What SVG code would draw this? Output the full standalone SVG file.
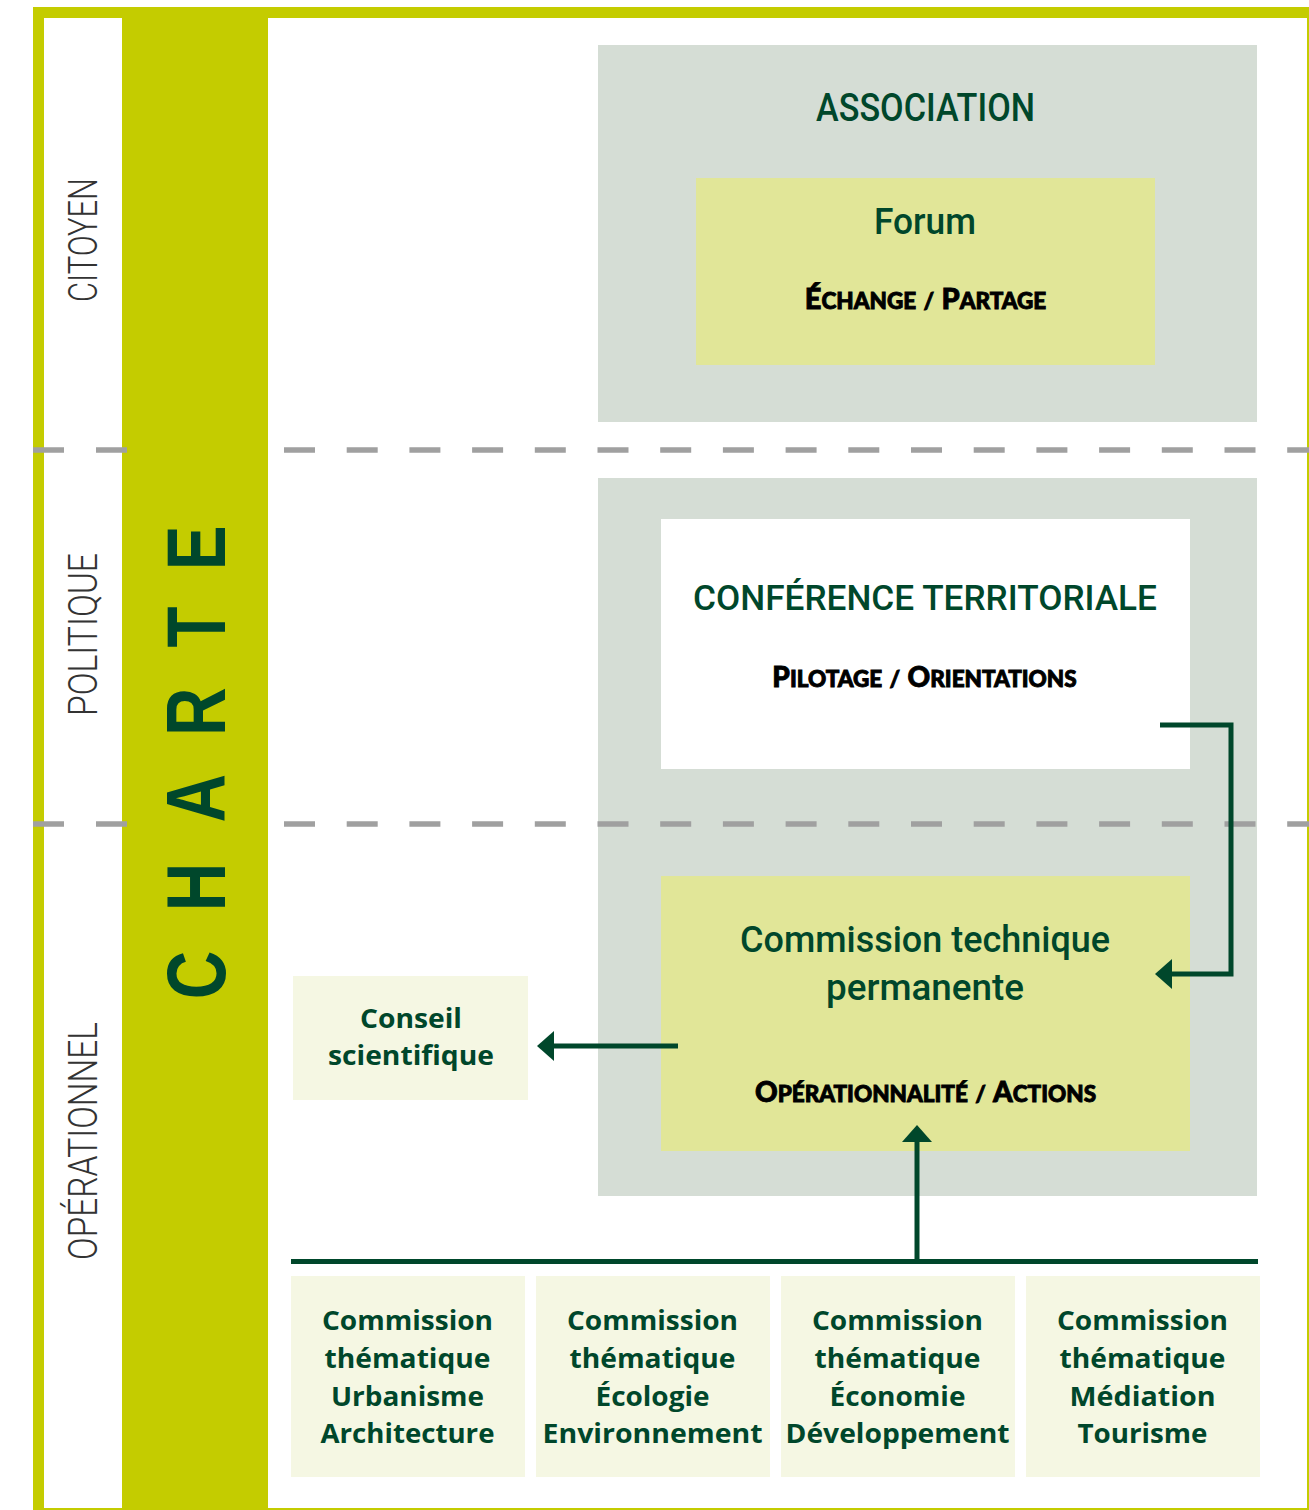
<svg xmlns="http://www.w3.org/2000/svg" width="1309" height="1510" viewBox="0 0 1309 1510">
<defs>
<style>
.lime{fill:#c4cc00}
.grey{fill:#d5ddd5}
.yel{fill:#e1e698}
.pale{fill:#f5f7e3}
.white{fill:#ffffff}
.dash{stroke:#a0a0a0;stroke-width:5.5;fill:none}
.conn{stroke:#00472b;stroke-width:5;fill:none}
.title{font-family:Roboto,"Open Sans",sans-serif;font-weight:500;fill:#00472b;text-anchor:middle}
.sc{font-family:Lato,"Open Sans",sans-serif;font-weight:900;fill:#000;stroke:#000;stroke-width:0.9;text-anchor:middle;word-spacing:2px}
.bold{font-family:"Open Sans","Noto Sans",sans-serif;font-weight:700;fill:#00472b;text-anchor:middle;font-size:26px}
.side{font-family:Roboto,"Liberation Sans",sans-serif;font-weight:300;fill:#333;text-anchor:middle;font-size:40px}
.charte{font-family:"Liberation Sans",Arial,sans-serif;font-weight:700;fill:#00472b;text-anchor:middle;font-size:84px}
</style>
<marker id="ah" markerUnits="userSpaceOnUse" markerWidth="17" markerHeight="30" refX="0" refY="15" orient="auto"><path d="M0,0 L17,15 L0,30 Z" fill="#00472b"/></marker>
</defs>

<g id="frame">
<rect class="lime" x="33" y="7" width="1276" height="1503"/>
<rect class="white" x="44" y="18" width="1263" height="1490"/>
<rect class="lime" x="122" y="18" width="146" height="1492"/>
</g>

<g id="groupe-association">
<rect class="grey" x="598" y="45" width="659" height="377"/>
</g>
<g id="groupe-politique">
<rect class="grey" x="598" y="478" width="659" height="718"/>
</g>

<g id="separateurs">
<path class="dash" d="M33,450H127M33,824H127" stroke-dasharray="31 32"/>
<path class="dash" d="M284,450H1309M284,824H1309" stroke-dasharray="31 31.7"/>
</g>

<g id="labels-niveaux">
<text class="side" transform="translate(97,240) rotate(-90)" x="0" y="0" textLength="124" lengthAdjust="spacingAndGlyphs">CITOYEN</text>
<text class="side" transform="translate(97,634.5) rotate(-90)" x="0" y="0" textLength="163" lengthAdjust="spacingAndGlyphs">POLITIQUE</text>
<text class="side" transform="translate(97,1141) rotate(-90)" x="0" y="0" textLength="238" lengthAdjust="spacingAndGlyphs">OPÉRATIONNEL</text>
</g>

<g id="charte">
<text class="charte" transform="translate(225,995) rotate(-90) scale(0.8,1)" x="25 135 246 354 460 559" y="0">CHARTE</text>
</g>

<g id="association">
<text class="title" x="925.5" y="121" font-size="39" textLength="219" lengthAdjust="spacingAndGlyphs">ASSOCIATION</text>
</g>

<g id="forum">
<rect class="yel" x="696" y="178" width="459" height="187"/>
<text class="title" x="925" y="234" font-size="37" textLength="102" lengthAdjust="spacingAndGlyphs">Forum</text>
<text class="sc" x="925.5" y="309" font-size="22.5"><tspan font-size="29">É</tspan>CHANGE / <tspan font-size="29">P</tspan>ARTAGE</text>
</g>

<g id="conference">
<rect class="white" x="661" y="519" width="529" height="250"/>
<text class="title" x="925" y="610" font-size="35" textLength="464" lengthAdjust="spacingAndGlyphs">CONFÉRENCE TERRITORIALE</text>
<text class="sc" x="924.5" y="687" font-size="22.5"><tspan font-size="28">P</tspan>ILOTAGE / <tspan font-size="28">O</tspan>RIENTATIONS</text>
</g>

<g id="commission-technique">
<rect class="yel" x="661" y="876" width="529" height="275"/>
<text class="title" x="925" y="952" font-size="37" textLength="370" lengthAdjust="spacingAndGlyphs">Commission technique</text>
<text class="title" x="925" y="1000" font-size="37" textLength="198" lengthAdjust="spacingAndGlyphs">permanente</text>
<text class="sc" x="925.5" y="1102" font-size="22.5"><tspan font-size="28">O</tspan>PÉRATIONNALITÉ / <tspan font-size="28">A</tspan>CTIONS</text>
</g>

<g id="conseil-scientifique">
<rect class="pale" x="293" y="976" width="235" height="124"/>
<text class="bold" x="411" y="1028" textLength="102" lengthAdjust="spacingAndGlyphs">Conseil</text>
<text class="bold" x="411" y="1065" textLength="166" lengthAdjust="spacingAndGlyphs">scientifique</text>
</g>

<g id="ct-urbanisme">
<rect class="pale" x="291" y="1276" width="234" height="201"/>
<text class="bold" x="407.5" y="1330" textLength="171" lengthAdjust="spacingAndGlyphs">Commission</text>
<text class="bold" x="407.5" y="1367.5" textLength="166" lengthAdjust="spacingAndGlyphs">thématique</text>
<text class="bold" x="407.5" y="1405.5" textLength="153" lengthAdjust="spacingAndGlyphs">Urbanisme</text>
<text class="bold" x="407.5" y="1443" textLength="174" lengthAdjust="spacingAndGlyphs">Architecture</text>
</g>

<g id="ct-ecologie">
<rect class="pale" x="536" y="1276" width="234" height="201"/>
<text class="bold" x="652.5" y="1330" textLength="171" lengthAdjust="spacingAndGlyphs">Commission</text>
<text class="bold" x="652.5" y="1367.5" textLength="166" lengthAdjust="spacingAndGlyphs">thématique</text>
<text class="bold" x="652.5" y="1405.5" textLength="114" lengthAdjust="spacingAndGlyphs">Écologie</text>
<text class="bold" x="652.5" y="1443" textLength="220" lengthAdjust="spacingAndGlyphs">Environnement</text>
</g>

<g id="ct-economie">
<rect class="pale" x="781" y="1276" width="234" height="201"/>
<text class="bold" x="897.5" y="1330" textLength="171" lengthAdjust="spacingAndGlyphs">Commission</text>
<text class="bold" x="897.5" y="1367.5" textLength="166" lengthAdjust="spacingAndGlyphs">thématique</text>
<text class="bold" x="897.5" y="1405.5" textLength="136" lengthAdjust="spacingAndGlyphs">Économie</text>
<text class="bold" x="897.5" y="1443" textLength="224" lengthAdjust="spacingAndGlyphs">Développement</text>
</g>

<g id="ct-mediation">
<rect class="pale" x="1026" y="1276" width="234" height="201"/>
<text class="bold" x="1142.5" y="1330" textLength="171" lengthAdjust="spacingAndGlyphs">Commission</text>
<text class="bold" x="1142.5" y="1367.5" textLength="166" lengthAdjust="spacingAndGlyphs">thématique</text>
<text class="bold" x="1142.5" y="1405.5" textLength="146" lengthAdjust="spacingAndGlyphs">Médiation</text>
<text class="bold" x="1142.5" y="1443" textLength="130" lengthAdjust="spacingAndGlyphs">Tourisme</text>
</g>

<g id="connecteurs">
<polyline class="conn" points="1160,725 1231,725 1231,974 1172,974" marker-end="url(#ah)"/>
<line class="conn" x1="678" y1="1046" x2="554" y2="1046" marker-end="url(#ah)"/>
<line class="conn" x1="917" y1="1261" x2="917" y2="1142" marker-end="url(#ah)"/>
<line class="conn" x1="291" y1="1261.5" x2="1258" y2="1261.5"/>
</g>
</svg>
